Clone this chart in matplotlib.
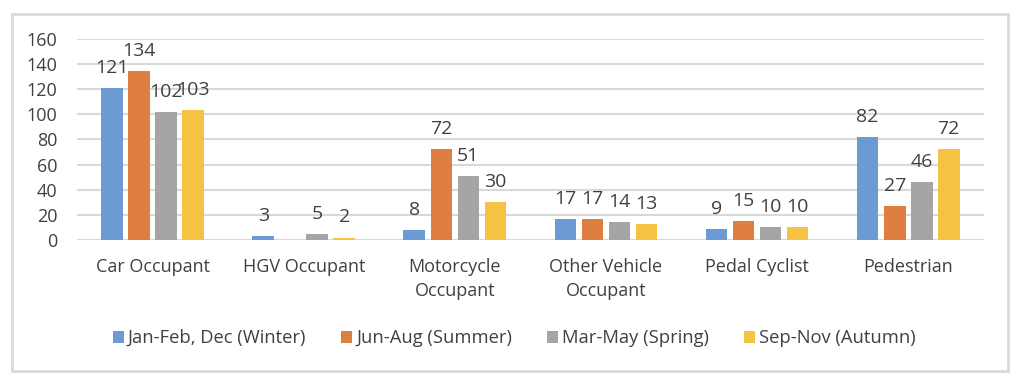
import numpy as np
import matplotlib.pyplot as plt
from matplotlib.patches import Rectangle

# data
categories = ["Car Occupant", "HGV Occupant", "Motorcycle\nOccupant",
              "Other Vehicle\nOccupant", "Pedal Cyclist", "Pedestrian"]
series_names = ["Jan-Feb, Dec (Winter)", "Jun-Aug (Summer)",
                "Mar-May (Spring)", "Sep-Nov (Autumn)"]
winter = [121, 3, 8, 17, 9, 82]
summer = [134, np.nan, 72, 17, 15, 27]
spring = [102, 5, 51, 14, 10, 46]
autumn = [103, 2, 30, 13, 10, 72]
yticks = [0, 20, 40, 60, 80, 100, 120, 140, 160]

colors = ["#6b9bd2", "#df7f3f", "#a5a5a5", "#f4c244"]
text_col = "#404040"

plt.rcParams["font.family"] = ["Open Sans", "DejaVu Sans"]

fig = plt.figure(figsize=(10.2, 3.78), dpi=100)
ax = fig.add_axes([0.0755, 0.365, 0.889, 0.5325])

x = np.arange(len(categories))
step = 0.179
width = 0.143
for i, (vals, name, c) in enumerate(zip([winter, summer, spring, autumn], series_names, colors)):
    pos = x + (i - 1.5) * step
    ax.bar(pos, vals, width, color=c, label=name, zorder=3)
    for p, v in zip(pos, vals):
        if not np.isnan(v):
            ax.annotate(f"{v:g}", (p, v), xytext=(0, 8), textcoords="offset points",
                        ha="center", va="bottom", fontsize=14, color=text_col)

ax.set_xlim(-0.5, len(categories) - 0.5)
ax.set_ylim(0, 160)
ax.set_yticks(yticks)
ax.set_xticks(x)
ax.set_xticklabels(categories, fontsize=13, color=text_col, linespacing=1.4)
ax.tick_params(axis="y", labelsize=13, labelcolor=text_col, length=0, pad=14)
ax.tick_params(axis="x", length=0, pad=13)
ax.grid(axis="y", color="#d9d9d9", linewidth=1.5, zorder=0)
for s in ax.spines.values():
    s.set_visible(False)

ax.legend(loc="center", bbox_to_anchor=(0.482, -0.487), ncol=4, frameon=False,
          fontsize=13.2, handlelength=0.62, handleheight=0.62, handletextpad=0.2,
          columnspacing=1.9, labelcolor=text_col)

fig.patches.append(Rectangle((12 / 1020, 1 - 370.5 / 378), 996 / 1020, 356.5 / 378,
                             transform=fig.transFigure, fill=False,
                             edgecolor="#d9d9d9", linewidth=2))

fig.savefig("out.png", dpi=100)
